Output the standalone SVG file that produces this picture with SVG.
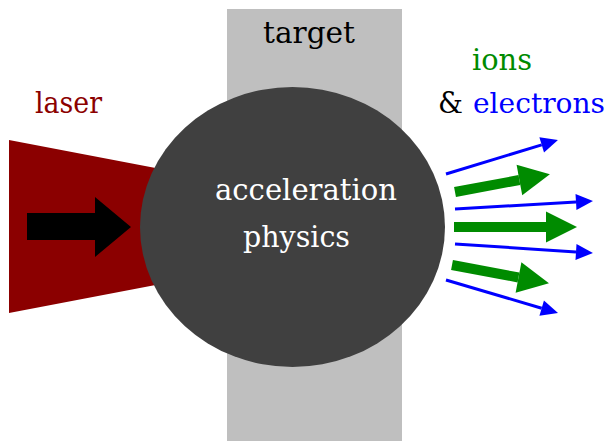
<svg xmlns="http://www.w3.org/2000/svg" width="611" height="443" viewBox="0 0 611 443">
<style>
.t{font-size:30px}
.blue{stroke:#0000ff;stroke-width:3;fill:none;marker-end:url(#bh)}
.green{stroke:#008b00;stroke-width:10;fill:none;marker-end:url(#gh)}
</style>
<defs>
<marker id="bh" markerUnits="userSpaceOnUse" markerWidth="17" markerHeight="16" refX="0" refY="8" orient="auto" overflow="visible"><path d="M0,0 L17,8 L0,16 z" fill="#0000ff"/></marker>
<marker id="gh" markerUnits="userSpaceOnUse" markerWidth="31" markerHeight="31" refX="0" refY="15.5" orient="auto" overflow="visible"><path d="M0,0 L31,15.5 L0,31 z" fill="#008b00"/></marker>
</defs>
<rect width="611" height="443" fill="#ffffff"/>
<g font-family="'DejaVu Serif', 'Liberation Serif', serif">
<g id="target"><rect x="227" y="9" width="175" height="432" fill="#bfbfbf"/><text class="t" x="309" y="43" text-anchor="middle" textLength="92" lengthAdjust="spacingAndGlyphs">target</text></g>
<g id="laser"><polygon points="9,140 200,176.6 200,276.4 9,313" fill="#8b0000"/><polygon points="27,213 95,213 95,197 131,227 95,257 95,240 27,240" fill="#000000"/><text class="t" x="35" y="113" fill="#8b0000" textLength="67" lengthAdjust="spacingAndGlyphs">laser</text></g>
<g id="physics"><ellipse cx="292.5" cy="227" rx="152.5" ry="140" fill="#404040"/><text class="t" x="215" y="200" fill="#ffffff" textLength="182" lengthAdjust="spacingAndGlyphs">acceleration</text><text class="t" x="243" y="247" fill="#ffffff" textLength="107" lengthAdjust="spacingAndGlyphs">physics</text></g>
<g id="connectors">
<line class="blue" x1="446" y1="174" x2="541.7" y2="144.9"/>
<line class="blue" x1="455" y1="209" x2="576" y2="202"/>
<line class="blue" x1="455" y1="244" x2="576" y2="251.9"/>
<line class="blue" x1="446" y1="280" x2="541.7" y2="308.2"/>
<line class="green" x1="455" y1="192" x2="519.4" y2="180"/>
<line class="green" x1="454" y1="227" x2="546" y2="227"/>
<line class="green" x1="452" y1="265" x2="518.5" y2="277.5"/>
</g>
<g id="labels"><text class="t" x="472" y="70" fill="#008b00" textLength="60" lengthAdjust="spacingAndGlyphs">ions</text><text class="t" x="438" y="113" fill="#000000" textLength="25" lengthAdjust="spacingAndGlyphs">&amp;</text><text x="473" y="113" fill="#0000ff" font-size="28" textLength="132" lengthAdjust="spacingAndGlyphs">electrons</text></g>
</g>
</svg>
